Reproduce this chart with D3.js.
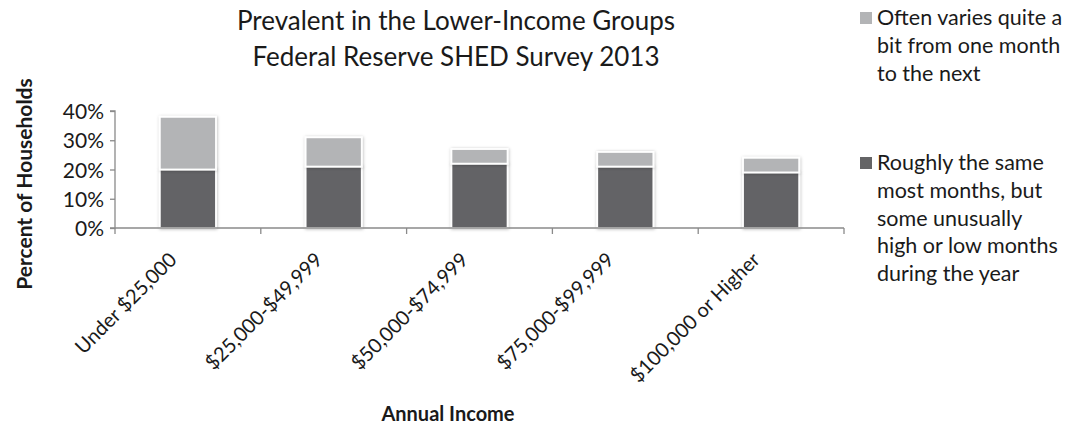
<!DOCTYPE html>
<html>
<head>
<meta charset="utf-8">
<script src="https://cdn.jsdelivr.net/npm/d3@7"></script>
<style>
  html, body { margin: 0; padding: 0; background: #fff; }
  svg { display: block; }
  text { font-family: Lato, "Open Sans", sans-serif; fill: #1a1a1a; }
</style>
</head>
<body>
<svg id="chart" width="1066" height="427"></svg>
<script>
// Income groups and the share of households in each volatility pattern (%)
const categories = ["Under $25,000", "$25,000-$49,999", "$50,000-$74,999", "$75,000-$99,999", "$100,000 or Higher"];
const roughlySame = [20, 21, 22, 21, 19];
const oftenVaries = [18, 10, 5, 5, 5];
const yTicks = [0, 10, 20, 30, 40];
const seriesNames = ["Often varies quite a bit from one month to the next",
                     "Roughly the same most months, but some unusually high or low months during the year"];
const titleLines = ["Prevalent in the Lower-Income Groups", "Federal Reserve SHED Survey 2013"];

const svg = d3.select("#chart");
const plot = { left: 115, right: 844, top: 111, bottom: 228 };
const colors = { dark: "#646466", light: "#b3b4b6", axis: "#8a8a8a" };

// soft shadow behind the bars
const defs = svg.append("defs");
const f = defs.append("filter").attr("id", "shadow").attr("x", "-20%").attr("y", "-20%").attr("width", "140%").attr("height", "140%");
f.append("feDropShadow").attr("dx", 0.5).attr("dy", 0.5).attr("stdDeviation", 1.4)
  .attr("flood-color", "#000").attr("flood-opacity", 0.28);

const x = d3.scaleBand().domain(categories).range([plot.left, plot.right]).paddingInner(0).paddingOuter(0);
const y = d3.scaleLinear().domain([0, 40]).range([plot.bottom, plot.top]);
const barW = x.bandwidth() * 0.385;

const rows = categories.map((c, i) => ({ c, a: roughlySame[i], b: oftenVaries[i] }));
const stack = d3.stack().keys(["a", "b"])(rows);

// stacked bars
const layerFill = [colors.dark, colors.light];
stack.forEach((layer, li) => {
  svg.append("g").attr("filter", "url(#shadow)")
    .selectAll("rect").data(layer).join("rect")
    .attr("x", d => x(d.data.c) + (x.bandwidth() - barW) / 2)
    .attr("width", barW)
    .attr("y", d => y(d[1]))
    .attr("height", d => y(d[0]) - y(d[1]))
    .attr("fill", layerFill[li])
    .attr("stroke", "#fff")
    .attr("stroke-width", 1.8);
});

// y axis
const yAxis = svg.append("g").attr("transform", `translate(${plot.left},0)`)
  .call(d3.axisLeft(y).tickValues(yTicks).tickSize(5).tickPadding(6).tickFormat(d => d + "%"));
yAxis.select(".domain").attr("stroke", colors.axis).attr("stroke-width", 1.3).attr("d", `M-5,${plot.top}H0V${plot.bottom}H-5`);
yAxis.selectAll(".tick line").attr("stroke", colors.axis).attr("stroke-width", 1.3);
yAxis.selectAll(".tick text").style("font-size", "21px").attr("fill", "#1a1a1a").attr("dy", "0.36em");

// x axis with ticks between categories
const xg = svg.append("g");
xg.append("line").attr("x1", plot.left).attr("x2", plot.right).attr("y1", plot.bottom).attr("y2", plot.bottom)
  .attr("stroke", colors.axis).attr("stroke-width", 1.3);
const bounds = categories.map(c => x(c)).concat([plot.right]);
xg.selectAll("line.tk").data(bounds).join("line").attr("class", "tk")
  .attr("x1", d => d).attr("x2", d => d).attr("y1", plot.bottom).attr("y2", plot.bottom + 6)
  .attr("stroke", colors.axis).attr("stroke-width", 1.3);
xg.selectAll("text").data(categories).join("text")
  .attr("transform", d => `translate(${x(d) + x.bandwidth() / 2 - 10},${plot.bottom + 33}) rotate(-45)`)
  .attr("text-anchor", "end")
  .style("font-size", "20px")
  .text(d => d);

// axis titles
svg.append("text").attr("x", 448).attr("y", 421).attr("text-anchor", "middle")
  .style("font-size", "20px").style("font-weight", "bold").text("Annual Income");
svg.append("text").attr("transform", "translate(32,184) rotate(-90)").attr("text-anchor", "middle")
  .style("font-size", "21px").style("font-weight", "bold").text("Percent of Households");

// title
svg.append("g").selectAll("text").data(titleLines).join("text")
  .attr("x", 456).attr("y", (d, i) => 30 + i * 36).attr("text-anchor", "middle")
  .style("font-size", "26px").text(d => d);

// legend
const legendLines = [
  ["Often varies quite a", "bit from one month", "to the next"],
  ["Roughly the same", "most months, but", "some unusually", "high or low months", "during the year"]
];
const legendTop = [25, 170];
const legendFill = [colors.light, colors.dark];
legendLines.forEach((lines, k) => {
  const g = svg.append("g").attr("class", "legend-item").attr("data-name", seriesNames[k]);
  g.append("rect").attr("x", 860).attr("y", legendTop[k] - 13).attr("width", 12).attr("height", 12).attr("fill", legendFill[k]);
  g.selectAll("text").data(lines).join("text")
    .attr("x", 877).attr("y", (d, i) => legendTop[k] + i * 27.8)
    .style("font-size", "21.5px").text(d => d);
});
</script>
</body>
</html>
